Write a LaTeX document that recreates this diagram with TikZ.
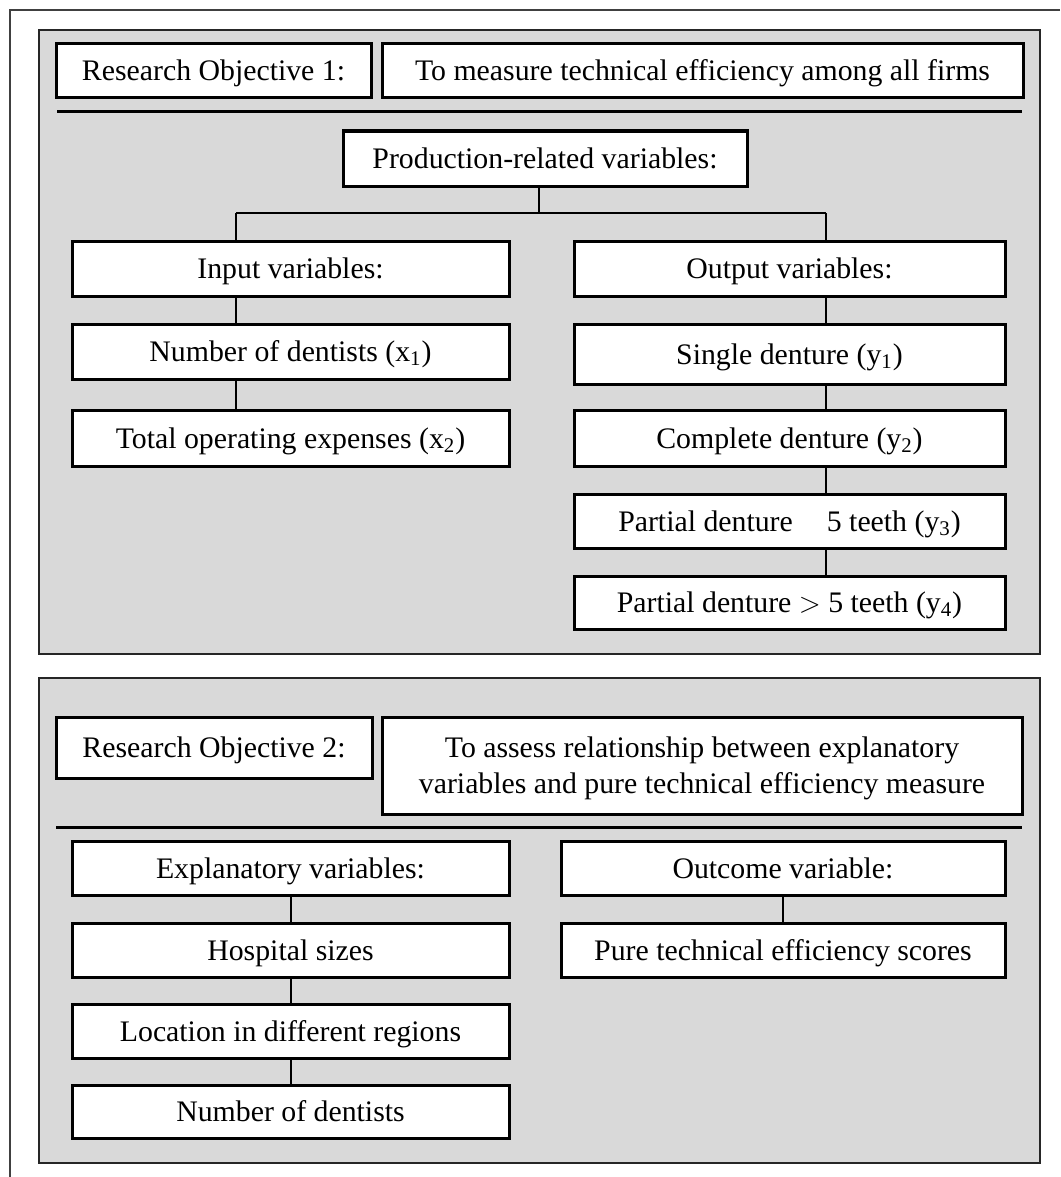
\documentclass[tikz,border=0pt]{standalone}
\usepackage{fontspec}
\setmainfont{Liberation Serif}
\definecolor{panelgray}{gray}{0.85}
\definecolor{framegray}{gray}{0.25}
\tikzset{
  varbox/.style={draw=black, line width=1.5pt, fill=white, inner sep=0pt,
    align=center, font=\fontsize{14.9}{18}\selectfont,
    text height=10pt, text depth=0pt},
  panel/.style={draw=black!85, line width=1pt, fill=panelgray},
  rule/.style={draw=black, line width=1.5pt},
  link/.style={draw=black, line width=1pt},
  frame/.style={draw=framegray, line width=0.75pt}
}
% box given by its pixel corners (x1,y1) and (x2,y2)
\newcommand\mkbox[7][]{%
  \node[varbox, minimum width={(#5-#3)*0.5pt}, minimum height={(#6-#4)*0.5pt}, #1]
    (#2) at ({(#3+#5)/2},{(#4+#6)/2}) {#7};}
\begin{document}
\begin{tikzpicture}[x=0.5pt, y=-0.5pt]
\useasboundingbox (0,0) rectangle (1060,1177);

% open outer frame
\coordinate (ftl) at (10,10);
\draw[frame] (1060,10) -- (ftl) -- (10,1177);

% ---------- objective 1 ----------
\draw[panel] (39,30) rectangle (1040,654);
\mkbox{ro1}{56}{44}{371}{98}{Research Objective 1:}
\mkbox{ob1}{382}{44}{1023}{98}{To measure technical efficiency among all firms}
\draw[rule] (57,112) -- (1022,112);

\mkbox{prod}{343}{131}{747}{186}{Production-related variables:}
\mkbox{inp}{72}{241}{509}{296}{Input variables:}
\mkbox{out}{574}{241}{1005}{296}{Output variables:}
\mkbox{x1}{72}{324}{509}{379}{Number of dentists (x\textsubscript{1})}
\mkbox{x2}{72}{410}{509}{466}{Total operating expenses (x\textsubscript{2})}
\mkbox{y1}{574}{324}{1005}{384}{Single denture (y\textsubscript{1})}
\mkbox{y2}{574}{410}{1005}{466}{Complete denture (y\textsubscript{2})}
\mkbox{y3}{574}{494}{1005}{548}{Partial denture\hspace{17pt}5 teeth (y\textsubscript{3})}
\mkbox{y4}{574}{576}{1005}{629}{Partial denture $>$ 5 teeth (y\textsubscript{4})}

\coordinate (split) at (539,213);
\coordinate (lbr) at (236,213);
\coordinate (rbr) at (826,213);
\draw[link] (prod.south -| split) -- (split);
\draw[link] (lbr) -- (rbr);
\draw[link] (lbr) -- (inp.north -| lbr);
\draw[link] (rbr) -- (out.north -| rbr);
\draw[link] (inp.south -| lbr) -- (x1.north -| lbr);
\draw[link] (x1.south -| lbr) -- (x2.north -| lbr);
\draw[link] (out.south -| rbr) -- (y1.north -| rbr);
\draw[link] (y1.south -| rbr) -- (y2.north -| rbr);
\draw[link] (y2.south -| rbr) -- (y3.north -| rbr);
\draw[link] (y3.south -| rbr) -- (y4.north -| rbr);

% ---------- objective 2 ----------
\draw[panel] (39,678) rectangle (1040,1163);
\mkbox{ro2}{56}{717}{372}{778}{Research Objective 2:}
\mkbox[text height=28pt]{ob2}{382}{717}{1022}{814}{To assess relationship between explanatory\\variables and pure technical efficiency measure}
\draw[rule] (56,827) -- (1022,827);

\mkbox{expl}{72}{841}{509}{895}{Explanatory variables:}
\mkbox{outc}{561}{841}{1005}{895}{Outcome variable:}
\mkbox{hosp}{72}{923}{509}{977}{Hospital sizes}
\mkbox{loc}{72}{1004}{509}{1058}{Location in different regions}
\mkbox{nd}{72}{1085}{509}{1138}{Number of dentists}
\mkbox{pte}{561}{923}{1005}{977}{Pure technical efficiency scores}

\draw[link] (expl) -- (hosp);
\draw[link] (hosp) -- (loc);
\draw[link] (loc) -- (nd);
\draw[link] (outc) -- (pte);
\end{tikzpicture}
\end{document}
